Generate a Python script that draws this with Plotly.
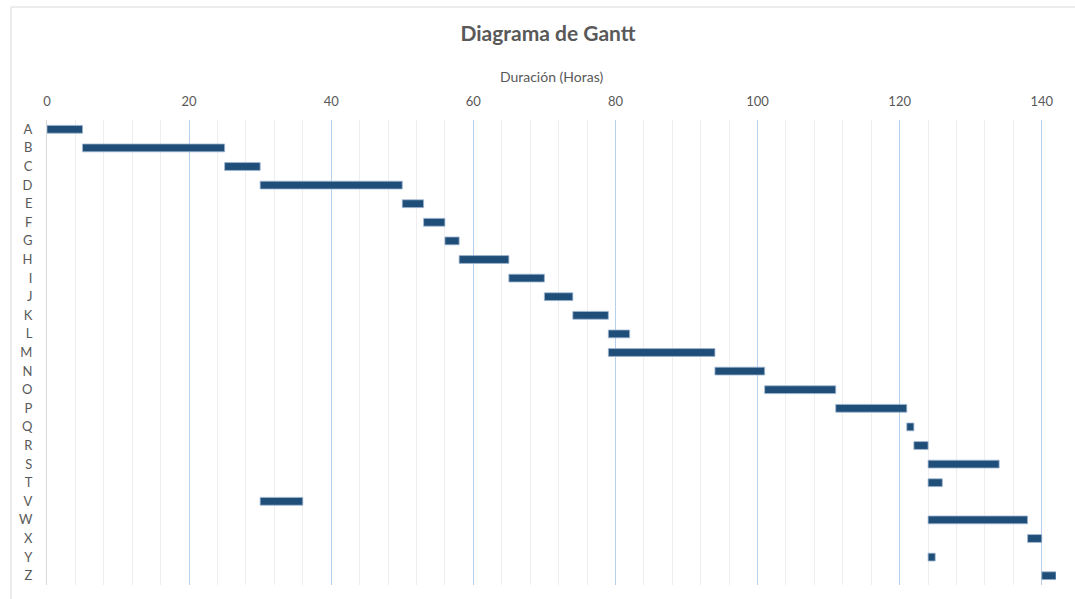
import plotly.graph_objects as go

tasks = ["A", "B", "C", "D", "E", "F", "G", "H", "I", "J", "K", "L", "M",
         "N", "O", "P", "Q", "R", "S", "T", "V", "W", "X", "Y", "Z"]
start = [0, 5, 25, 30, 50, 53, 56, 58, 65, 70, 74, 79, 79,
         94, 101, 111, 121, 122, 124, 124, 30, 124, 138, 124, 140]
duration = [5, 20, 5, 20, 3, 3, 2, 7, 5, 4, 5, 3, 15,
            7, 10, 10, 1, 2, 10, 2, 6, 14, 2, 1, 2]

FONT = "Lato, 'Open Sans', sans-serif"
GRAY = "#595959"

minor_vals = [v for v in range(4, 142, 4) if v % 20 != 0]

fig = go.Figure(go.Bar(
    y=tasks, x=duration, base=start, orientation="h",
    marker=dict(color="#1F4E79", line=dict(color="#9FB6D2", width=0.8)),
    width=0.42,
))

fig.update_layout(
    width=1075, height=599,
    margin=dict(l=47, r=19, t=120, b=14),
    paper_bgcolor="white", plot_bgcolor="white",
    showlegend=False, bargap=0.58,
    title=dict(text="<b>Diagrama de Gantt</b>", x=548 / 1075, xanchor="center",
               y=1 - 34 / 599, yanchor="middle",
               font=dict(family=FONT, size=21, color=GRAY)),
    font=dict(family=FONT, color=GRAY, size=13),
)

fig.update_xaxes(
    side="top", range=[0, 142], dtick=20, tick0=0,
    showgrid=True, gridcolor="#B4D0EC", gridwidth=1,
    minor=dict(tickmode="array", tickvals=minor_vals, showgrid=True,
               gridcolor="#EEEEEE", gridwidth=1),
    zeroline=False, showline=False,
    ticks="outside", ticklen=8, tickcolor="rgba(0,0,0,0)",
    tickfont=dict(size=13, color=GRAY),
    title=dict(text="Duración (Horas)", font=dict(size=14, color=GRAY), standoff=6),
)

fig.update_yaxes(
    categoryorder="array", categoryarray=tasks, autorange="reversed",
    showgrid=False, zeroline=False,
    showline=True, linecolor="#D9D9D9", linewidth=1,
    ticks="outside", ticklen=11, tickcolor="rgba(0,0,0,0)",
    tickfont=dict(size=13, color=GRAY),
)

# chart-area border (left and top edges)
pw = 1075 - 47 - 19
ph = 599 - 120 - 14
xl = (11 - 47) / pw
yt = 1 + (120 - 7) / ph
fig.add_shape(type="line", xref="paper", yref="paper",
              x0=xl, x1=(1075 - 47) / pw, y0=yt, y1=yt,
              line=dict(color="#D9D9D9", width=1))
fig.add_shape(type="line", xref="paper", yref="paper",
              x0=xl, x1=xl, y0=yt, y1=-14 / ph,
              line=dict(color="#D9D9D9", width=1))

fig.write_html("out.html", config={"displayModeBar": False},
               post_script="document.body.style.margin='0';document.body.style.overflow='hidden';")
